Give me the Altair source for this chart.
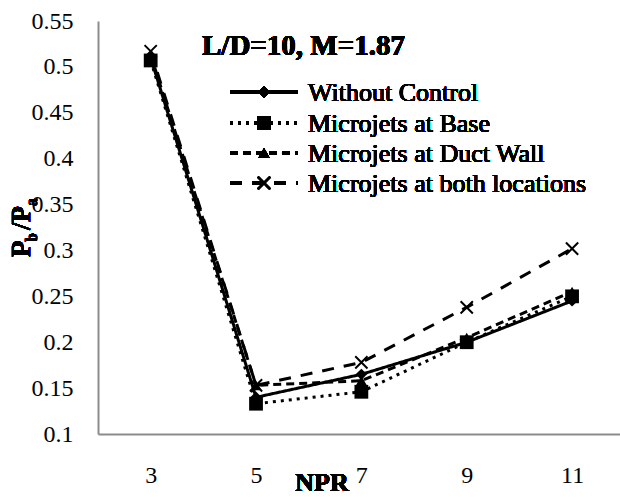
import altair as alt
import pandas as pd

# ---------------- data ----------------
npr = [3, 5, 7, 9, 11]
series_names = [
    "Without Control",
    "Microjets at Base",
    "Microjets at Duct Wall",
    "Microjets at both locations",
]
without_control = [0.510, 0.140, 0.165, 0.200, 0.245]
at_base = [0.507, 0.133, 0.146, 0.200, 0.250]
at_duct_wall = [0.513, 0.153, 0.158, 0.205, 0.255]
at_both = [0.517, 0.153, 0.178, 0.238, 0.302]
y_tick_values = [0.1, 0.15, 0.2, 0.25, 0.3, 0.35, 0.4, 0.45, 0.5, 0.55]
x_tick_values = [3, 5, 7, 9, 11]
chart_title = "L/D=10, M=1.87"

series_values = [without_control, at_base, at_duct_wall, at_both]

FONT = "Liberation Serif"
X_SHAPE = "M-1,-1L1,1M-1,1L1,-1"

styles = {
    "Without Control": dict(dash=[1, 0], shape="diamond", size=130, filled=True, sw=1),
    "Microjets at Base": dict(dash=[3, 5], shape="square", size=190, filled=True, sw=1),
    "Microjets at Duct Wall": dict(dash=[8, 5], shape="triangle-up", size=130, filled=True, sw=1),
    "Microjets at both locations": dict(dash=[12, 10], shape=X_SHAPE, size=150, filled=False, sw=2),
}

rows = []
for name, vals in zip(series_names, series_values):
    for x, v in zip(npr, vals):
        rows.append({"series": name, "NPR": x, "ratio": v})
df = pd.DataFrame(rows)

x_scale = alt.Scale(domain=[2, 11.91], nice=False, zero=False)
y_scale = alt.Scale(domain=[0.1, 0.55], nice=False, zero=False)

x_enc = alt.X(
    "NPR:Q",
    scale=x_scale,
    axis=alt.Axis(
        values=x_tick_values, title=None, grid=False, ticks=False, tickSize=0,
        labelFont=FONT, labelFontSize=24, labelColor="black",
        labelPadding=41, labelBaseline="middle",
        domainColor="#8c8c8c", domainWidth=2,
    ),
)
y_enc = alt.Y(
    "ratio:Q",
    scale=y_scale,
    axis=alt.Axis(
        values=y_tick_values, title=None, grid=False, ticks=False, tickSize=0,
        format=".2~f",
        labelFont=FONT, labelFontSize=24, labelColor="black",
        labelPadding=25, domainColor="#8c8c8c", domainWidth=2,
    ),
)

layers = []
for name in series_names:
    st = styles[name]
    sub = alt.Chart(df).transform_filter(alt.datum.series == name)
    layers.append(
        sub.mark_line(color="black", strokeWidth=3, strokeDash=st["dash"]).encode(x=x_enc, y=y_enc)
    )
    layers.append(
        sub.mark_point(
            shape=st["shape"], size=st["size"], filled=st["filled"],
            color="black", opacity=1, strokeWidth=st["sw"],
        ).encode(x=x_enc, y=y_enc)
    )

# ---------------- legend (manual) ----------------
legend_rows_y = [71, 102, 132, 162]
for name, ly in zip(series_names, legend_rows_y):
    st = styles[name]
    layers.append(
        alt.Chart(df).mark_rule(color="black", strokeWidth=3, strokeDash=st["dash"]).encode(
            x=alt.value(132), x2=alt.value(200), y=alt.value(ly)
        )
    )
    layers.append(
        alt.Chart(df).mark_point(
            shape=st["shape"], size=st["size"], filled=st["filled"],
            color="black", opacity=1, strokeWidth=st["sw"],
        ).encode(x=alt.value(166), y=alt.value(ly))
    )
    layers.append(
        alt.Chart(df).mark_text(
            text=name, font=FONT, fontSize=26, align="left", baseline="alphabetic", color="black"
        ).encode(x=alt.value(210), y=alt.value(ly + 9))
    )

# ---------------- title / axis titles ----------------
layers.append(
    alt.Chart(df).mark_text(
        text=chart_title, font=FONT, fontSize=29, fontWeight="bold",
        align="left", baseline="alphabetic", color="black",
    ).encode(x=alt.value(104), y=alt.value(34))
)
layers.append(
    alt.Chart(df).mark_text(
        text="NPR", font=FONT, fontSize=26, fontWeight="bold",
        align="center", baseline="alphabetic", color="black",
    ).encode(x=alt.value(224), y=alt.value(470))
)
# y title  P_b / P_a  rotated
ytitle_parts = [
    ("P", 27, -68, 236),
    ("b", 16, -61, 221),
    ("/P", 27, -68, 209),
    ("a", 16, -61, 185),
]
for txt, fs, px, py in ytitle_parts:
    layers.append(
        alt.Chart(df).mark_text(
            text=txt, font=FONT, fontSize=fs, fontWeight="bold", angle=270,
            align="left", baseline="alphabetic", color="black",
        ).encode(x=alt.value(px), y=alt.value(py))
    )

chart = (
    alt.layer(*layers)
    .properties(
        width=522, height=413,
        padding={"left": 98, "top": 21, "right": 0, "bottom": 63},
        autosize=alt.AutoSizeParams(type="none"),
        background="white",
    )
    .configure_view(stroke=None)
)

chart.save("out.html", embed_options={"renderer": "svg", "actions": False})
